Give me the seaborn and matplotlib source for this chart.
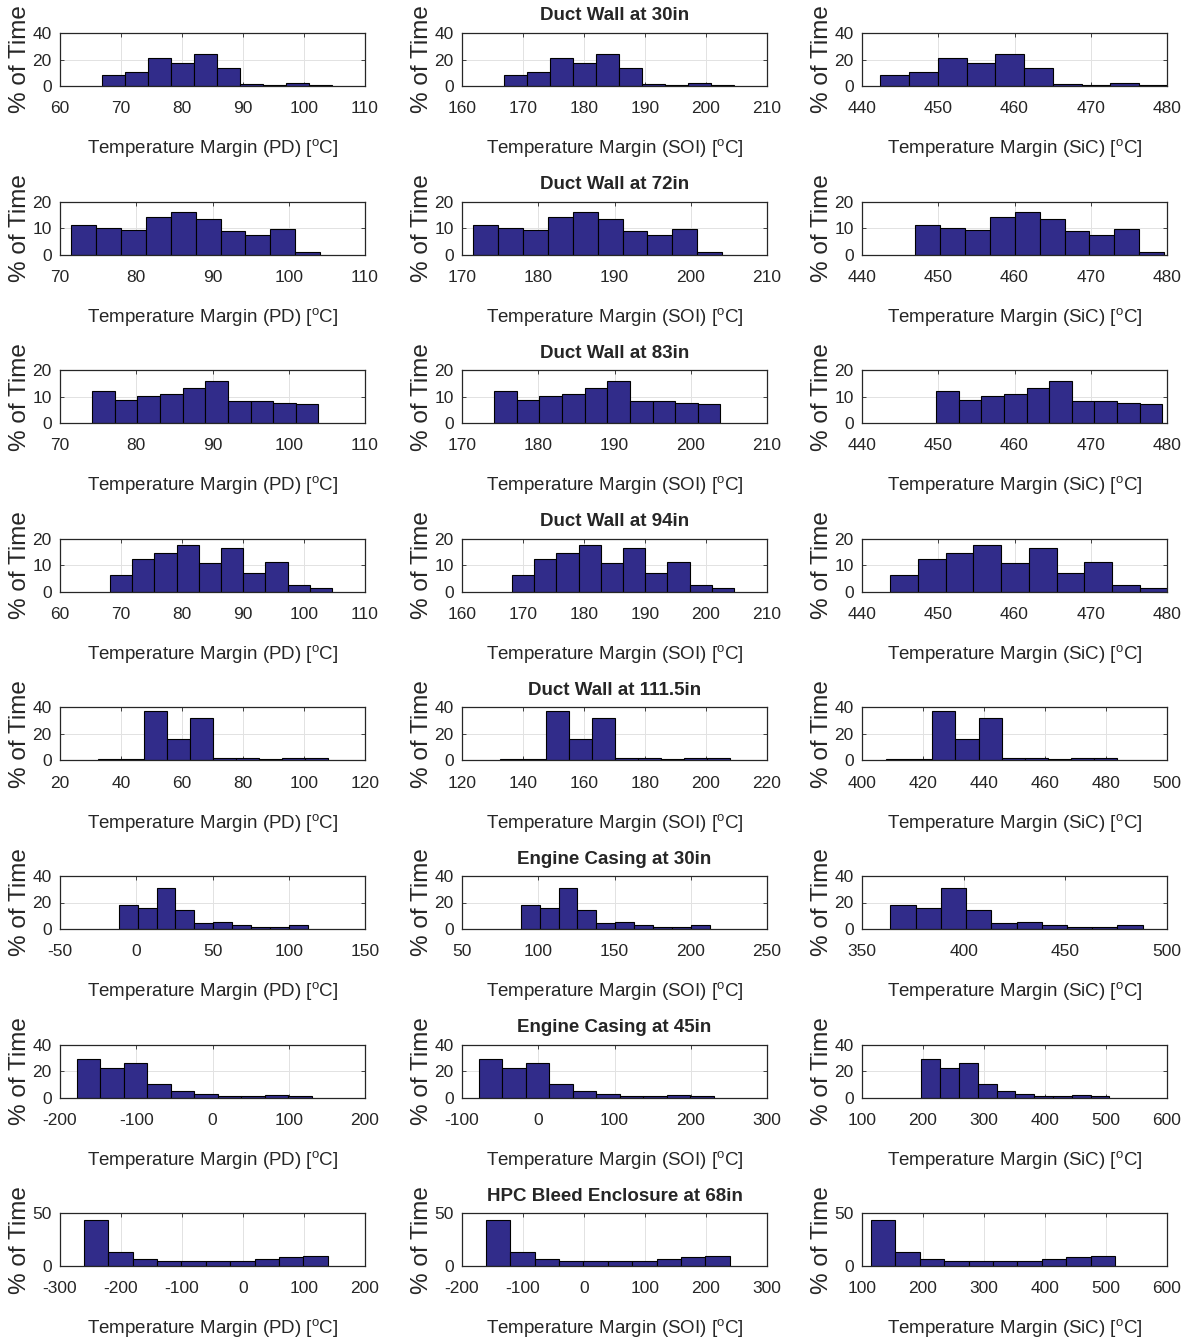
import matplotlib
matplotlib.use("Agg")
import matplotlib.pyplot as plt
import numpy as np
import pandas as pd
import seaborn as sns

# one row per sensor location; PD bins are shifted for SOI and SiC
locations = ["Duct Wall at 30in", "Duct Wall at 72in", "Duct Wall at 83in",
             "Duct Wall at 94in", "Duct Wall at 111.5in", "Engine Casing at 30in",
             "Engine Casing at 45in", "HPC Bleed Enclosure at 68in"]

# first bin edge and bin width (PD margin, deg C)
pd_bin_start = [66.9, 71.5, 74.2, 68.2, 32.5, -11.5, -178.0, -260.9]
pd_bin_width = [3.77, 3.26, 2.97, 3.64, 7.55, 12.4, 30.8, 40.0]

soi_shift = 100.0
sic_shift = 375.5

pct_30 = [8.5, 10.5, 21.0, 17.0, 24.0, 13.6, 1.5, 0.8, 2.0, 1.1]
pct_72 = [11.3, 10.0, 9.3, 14.3, 16.0, 13.6, 8.9, 7.3, 9.7, 1.0]
pct_83 = [12.0, 8.9, 10.3, 10.9, 13.3, 16.0, 8.3, 8.3, 7.7, 7.1]
pct_94 = [6.4, 12.4, 14.5, 17.8, 10.7, 16.6, 7.0, 11.3, 2.7, 1.5]
pct_1115 = [0.8, 0.8, 37.6, 16.0, 32.2, 2.0, 1.5, 1.2, 2.0, 1.5]
pct_ec30 = [17.9, 16.0, 31.2, 14.7, 4.5, 5.3, 2.7, 1.3, 1.3, 2.7]
pct_ec45 = [29.0, 22.6, 26.4, 10.3, 5.1, 2.6, 1.3, 1.3, 2.3, 1.5]
pct_hpc68 = [44.0, 13.4, 6.4, 5.1, 4.5, 4.5, 4.5, 6.4, 8.3, 9.2]
percents = [pct_30, pct_72, pct_83, pct_94, pct_1115, pct_ec30, pct_ec45, pct_hpc68]

y_max = [40, 20, 20, 20, 40, 40, 40, 50]
y_ticks = [[0, 20, 40], [0, 10, 20], [0, 10, 20], [0, 10, 20],
           [0, 20, 40], [0, 20, 40], [0, 20, 40], [0, 50]]

pd_ticks = [np.arange(60, 111, 10), np.arange(70, 111, 10), np.arange(70, 111, 10),
            np.arange(60, 111, 10), np.arange(20, 121, 20), np.arange(-50, 151, 50),
            np.arange(-200, 201, 100), np.arange(-300, 201, 100)]
sic_ticks = [np.arange(440, 481, 10), np.arange(440, 481, 10), np.arange(440, 481, 10),
             np.arange(440, 481, 10), np.arange(400, 501, 20), np.arange(350, 501, 50),
             np.arange(100, 601, 100), np.arange(100, 601, 100)]

devices = ["PD", "SOI", "SiC"]

sns.set_style("ticks")
plt.rcParams["font.family"] = ["Liberation Sans", "DejaVu Sans"]
plt.rcParams["mathtext.default"] = "regular"
plt.rcParams["axes.unicode_minus"] = False

fig = plt.figure(figsize=(11.88, 13.44), dpi=100)
W, H = 1188.0, 1344.0
col_left = [60, 462, 862]
ax_w = 305
ax_h = 53
row_top0 = 33
row_step = 168.6

bar_color = "#312c8a"

for r in range(8):
    edges_pd = pd_bin_start[r] + pd_bin_width[r] * np.arange(11)
    centers_pd = (edges_pd[:-1] + edges_pd[1:]) / 2
    for c, dev in enumerate(devices):
        shift = [0.0, soi_shift, sic_shift][c]
        if c == 2:
            ticks = sic_ticks[r]
        else:
            ticks = pd_ticks[r] + shift
        top = row_top0 + r * row_step
        ax = fig.add_axes([col_left[c] / W, 1 - (top + ax_h) / H, ax_w / W, ax_h / H])
        df = pd.DataFrame({"margin": centers_pd + shift, "pct": percents[r]})
        sns.histplot(data=df, x="margin", weights="pct", bins=list(edges_pd + shift),
                     stat="count", color=bar_color, alpha=1, edgecolor="black",
                     linewidth=0.8, ax=ax, zorder=2)
        ax.set_xlim(ticks[0], ticks[-1])
        ax.set_xticks(ticks)
        ax.set_ylim(0, y_max[r])
        ax.set_yticks(y_ticks[r])
        ax.grid(True, color="#e2e2e2", linewidth=0.7, zorder=0)
        ax.set_axisbelow(True)
        ax.tick_params(direction="in", length=3, width=0.6, top=True, right=True,
                       labelsize=12.5, colors="#262626", pad=6)
        ax.tick_params(axis="x", pad=11)
        for sp in ax.spines.values():
            sp.set_linewidth(0.9)
            sp.set_color("#262626")
        ax.set_ylabel("% of Time", fontsize=17.5, color="#262626", labelpad=1)
        ax.set_xlabel("Temperature Margin (" + dev + ") [$^{o}$C]", fontsize=13.5,
                      color="#262626", labelpad=15)
        if c == 1:
            ax.set_title(locations[r], fontsize=13.5, fontweight="bold", pad=9)

fig.savefig("out.png", dpi=100)
